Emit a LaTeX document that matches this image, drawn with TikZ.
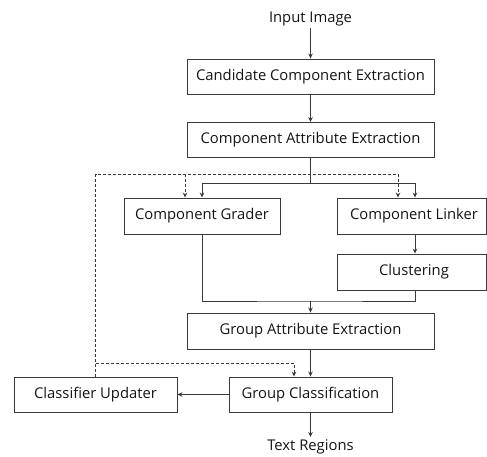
\documentclass[tikz,border=0pt]{standalone}
\usepackage{fontspec}
\setmainfont{Open Sans}
\usetikzlibrary{arrows.meta}
\definecolor{linegray}{HTML}{3A3A3A}
\definecolor{txt}{HTML}{141414}
\begin{document}
\begin{tikzpicture}[x=1pt,y=-1pt,
  box/.style={draw=linegray, line width=0.9pt, minimum height=35pt, inner sep=0pt, text=txt, font=\fontsize{14.8}{17}\selectfont},
  lbl/.style={text=txt, font=\fontsize{14.8}{17}\selectfont, inner sep=2pt},
  plainline/.style={draw=linegray, line width=0.9pt},
  conn/.style={draw=linegray, line width=0.9pt, -{Stealth[length=5pt,width=4.5pt]}},
  dashline/.style={draw=linegray, line width=0.8pt, dash pattern=on 3pt off 2pt},
  dasharrow/.style={dashline, -{Stealth[length=5pt,width=4.5pt]}}
]
\useasboundingbox (0,0) rectangle (487,457);

\node[lbl] (inp) at (310.5,19) {Input Image};
\node[box, minimum width=247pt] (cce) at (310.5,76.5) {Candidate Component Extraction};
\node[box, minimum width=247pt] (cae) at (310.5,140) {Component Attribute Extraction};
\node[box, minimum width=156pt, minimum height=36pt] (cg) at (202,216) {Component Grader};
\node[box, minimum width=149pt, minimum height=36pt] (cl) at (411.5,216) {\hspace{5pt}Component Linker};
\node[box, minimum width=149pt, minimum height=36pt] (clu) at (411.5,272) {\hspace{5pt}Clustering};
\node[box, minimum width=247pt, minimum height=36pt] (gae) at (310.5,331) {Group Attribute Extraction};
\node[box, minimum width=163pt] (gc) at (310.5,394.5) {Group Classification};
\node[box, minimum width=163pt] (cu) at (95.5,394.5) {Classifier Updater};
\node[lbl, anchor=north] (tr) at (310.5,437) {Text Regions};

\coordinate (split) at (310.5,183);
\coordinate (lx) at (415,0);
\coordinate (dx1) at (185,0);
\coordinate (dx2) at (398,0);
\coordinate (dx3) at (294,0);
\coordinate (fb) at (95.7,174);
\coordinate (fb2) at (95.7,363);
\coordinate (mrg) at (310.5,301);

\draw[conn] (inp) -- (cce);
\draw[conn] (cce) -- (cae);
\draw[plainline] (cae.south) -- (split);
\draw[conn] (split) -| (cg.north);
\draw[conn] (split) -| (cl.north -| lx);
\draw[conn] (cl.south -| lx) -- (clu.north -| lx);
\draw[plainline] (cg.south) |- (mrg) -| (clu.south -| lx);
\draw[conn] (mrg) -- (gae.north);
\draw[conn] (gae) -- (gc);
\draw[conn] (gc) -- (cu);
\draw[conn] (gc) -- (tr);

\draw[dasharrow] (cu.north -| fb) -- (fb) -| (cl.north -| dx2);
\draw[dasharrow] (fb -| dx1) -- (cg.north -| dx1);
\draw[dasharrow] (fb2) -| (gc.north -| dx3);
\end{tikzpicture}
\end{document}
